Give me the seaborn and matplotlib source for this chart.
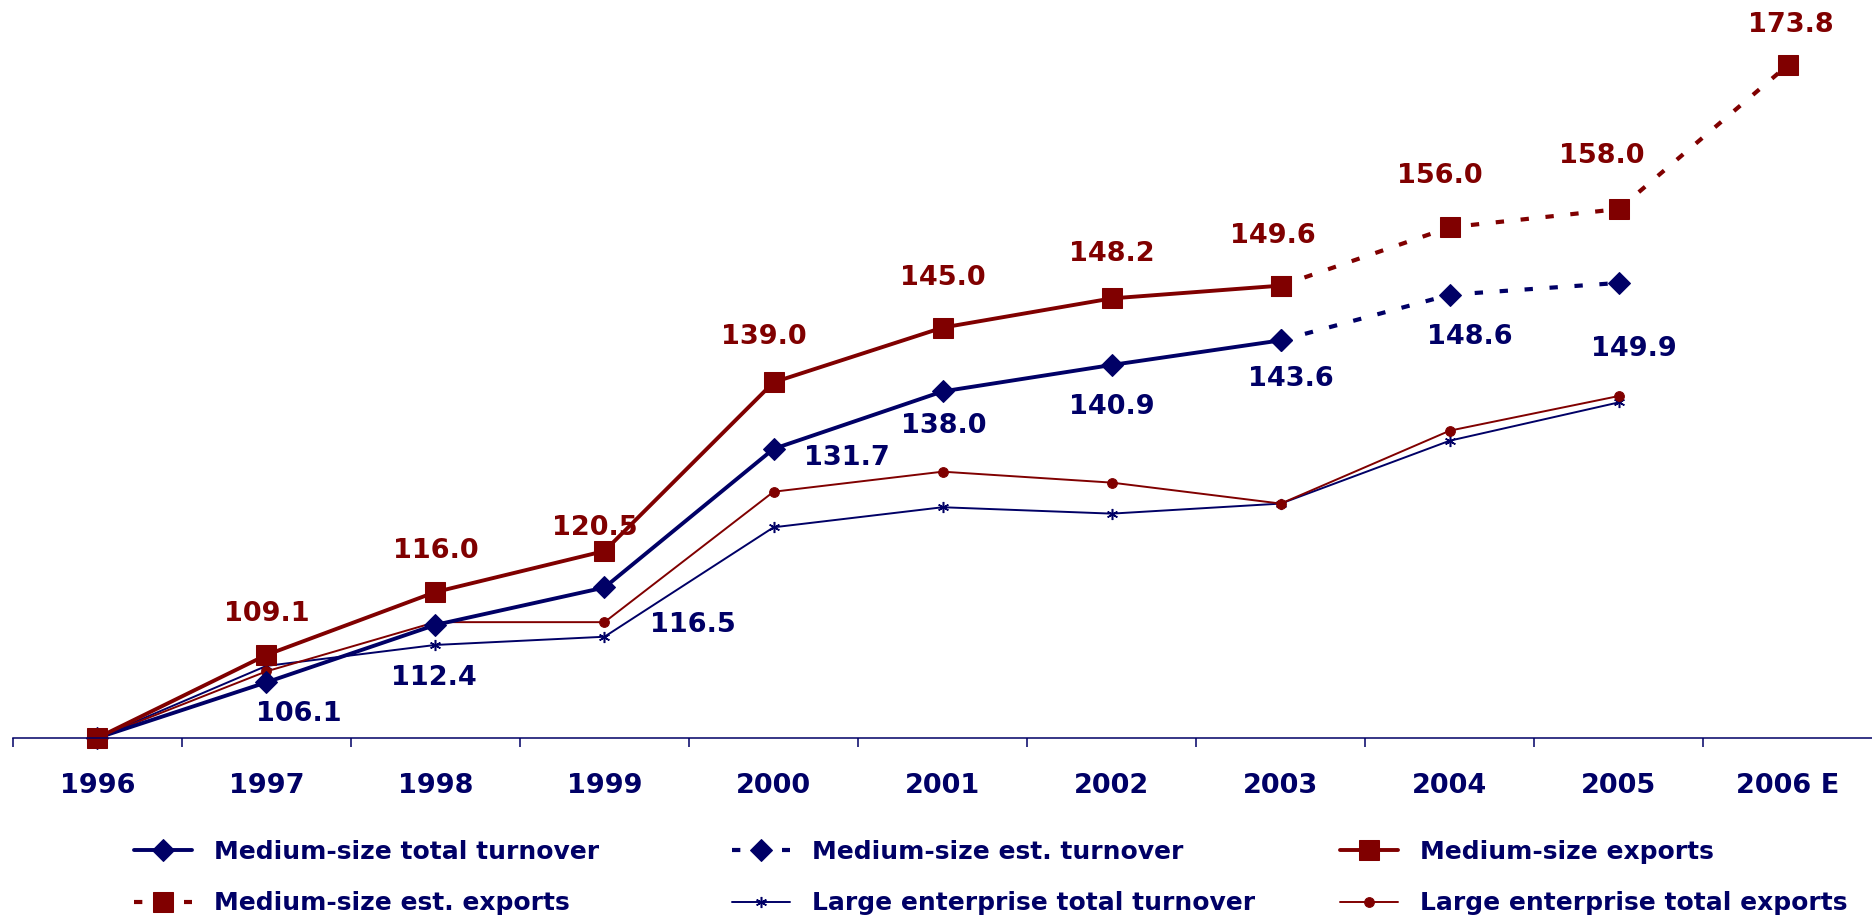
import seaborn as sns
import matplotlib.pyplot as plt
import numpy as np

years = ["1996", "1997", "1998", "1999", "2000", "2001", "2002", "2003", "2004", "2005", "2006 E"]

# medium-size enterprises (1996 = 100)
medium_turnover = [100.0, 106.1, 112.4, 116.5, 131.7, 138.0, 140.9, 143.6]
medium_turnover_est = [143.6, 148.6, 149.9]          # 2003 - 2005
medium_exports = [100.0, 109.1, 116.0, 120.5, 139.0, 145.0, 148.2, 149.6]
medium_exports_est = [149.6, 156.0, 158.0, 173.8]    # 2003 - 2006 E

# large enterprises
large_turnover = [100.0, 107.9, 110.2, 111.1, 123.1, 125.3, 124.6, 125.7, 132.6, 136.8]
large_exports = [100.0, 107.3, 112.7, 112.7, 127.0, 129.2, 128.0, 125.7, 133.7, 137.5]

legend_labels = ["Medium-size total turnover", "Medium-size est. turnover", "Medium-size exports",
                 "Medium-size est. exports", "Large enterprise total turnover", "Large enterprise total exports"]

NAVY = "#000066"
RED = "#800000"

# label offsets in pixels (dx, dy), from 1997 on
turnover_offsets = [(32, -32), (-2, -53), (88, -38), (73, -9), (1, -35), (0, -42), (10, -39), (20, -42), (15, -66)]
exports_offsets = [(0, 41), (0, 41), (-10, 23), (-10, 45), (0, 50), (0, 44), (-8, 50), (-10, 51), (-17, 53), (3, 40)]


def draw_chart():
    sns.set_style("white")
    plt.rcParams['font.family'] = ['DejaVu Sans']
    fig = plt.figure(figsize=(18.72, 9.22), dpi=100)
    ax = fig.add_axes([0.0068, 0.1996, 0.9935, 0.7913])

    n_med = len(medium_turnover)
    x_all = np.arange(len(years))
    x_med = x_all[:n_med]
    x_turn_est = x_all[n_med - 1:n_med - 1 + len(medium_turnover_est)]
    x_exp_est = x_all[n_med - 1:n_med - 1 + len(medium_exports_est)]
    x_large = x_all[:len(large_turnover)]

    dash = (0, (2, 4))
    h = {}
    sns.lineplot(x=x_large, y=large_turnover, ax=ax, color=NAVY, lw=1.4, marker=(6, 2, 0), ms=8,
                 mec=NAVY, mew=1.1, clip_on=False)
    h['lt'] = ax.get_lines()[-1]
    sns.lineplot(x=x_large, y=large_exports, ax=ax, color=RED, lw=1.4, marker='o', ms=7,
                 mec=RED, mfc=RED, clip_on=False)
    h['le'] = ax.get_lines()[-1]
    sns.lineplot(x=x_turn_est, y=medium_turnover_est, ax=ax, color=NAVY, lw=3.0, linestyle=dash,
                 marker='D', ms=11, mec=NAVY, mfc=NAVY, clip_on=False)
    h['mte'] = ax.get_lines()[-1]
    sns.lineplot(x=x_med, y=medium_turnover, ax=ax, color=NAVY, lw=2.8, marker='D', ms=11,
                 mec=NAVY, mfc=NAVY, clip_on=False)
    h['mt'] = ax.get_lines()[-1]
    sns.lineplot(x=x_exp_est, y=medium_exports_est, ax=ax, color=RED, lw=3.0, linestyle=dash,
                 marker='s', ms=14, mec=RED, mfc=RED, clip_on=False)
    h['mee'] = ax.get_lines()[-1]
    sns.lineplot(x=x_med, y=medium_exports, ax=ax, color=RED, lw=2.8, marker='s', ms=14,
                 mec=RED, mfc=RED, clip_on=False)
    h['me'] = ax.get_lines()[-1]

    # value labels
    turn_vals = medium_turnover[1:] + medium_turnover_est[1:]
    exp_vals = medium_exports[1:] + medium_exports_est[1:]
    for i, v in enumerate(turn_vals):
        ax.annotate(f"{v:.1f}", (i + 1, v), xytext=turnover_offsets[i], textcoords='offset pixels',
                    ha='center', va='center', fontsize=19.5, fontweight='bold', color=NAVY)
    for i, v in enumerate(exp_vals):
        ax.annotate(f"{v:.1f}", (i + 1, v), xytext=exports_offsets[i], textcoords='offset pixels',
                    ha='center', va='center', fontsize=19.5, fontweight='bold', color=RED)

    ax.set_xlim(-0.5, len(years) - 0.5)
    ax.set_ylim(100, 180)
    ax.set_xticks(x_all)
    ax.set_xticklabels(years, fontsize=19.5, fontweight='bold', color=NAVY)
    ax.set_xticks(np.arange(-0.5, len(years), 1.0), minor=True)
    ax.tick_params(axis='x', which='major', bottom=True, length=0, pad=25)
    ax.tick_params(axis='x', which='minor', bottom=True, length=6.5, width=1.1, color=NAVY,
                   direction='out')
    ax.set_yticks([])
    ax.set_xlabel("")
    ax.set_ylabel("")
    for side in ['left', 'right', 'top']:
        ax.spines[side].set_visible(False)
    ax.spines['bottom'].set_color(NAVY)
    ax.spines['bottom'].set_linewidth(1.1)

    # legend: three columns placed by hand
    columns = [([h['mt'], h['mee']], [legend_labels[0], legend_labels[3]], 134),
               ([h['mte'], h['lt']], [legend_labels[1], legend_labels[4]], 732),
               ([h['me'], h['le']], [legend_labels[2], legend_labels[5]], 1340)]
    for handles, labels, x0 in columns:
        leg = fig.legend(handles, labels, loc='upper left', bbox_to_anchor=(x0 / 1872, 0.089),
                         frameon=False, borderpad=0, borderaxespad=0, handlelength=2.3,
                         handletextpad=0.9, labelspacing=1.1, numpoints=1,
                         prop={'size': 18, 'weight': 'bold'})
        for t in leg.get_texts():
            t.set_color(NAVY)

    fig.savefig("out.png", dpi=100)


if __name__ == '__main__':
    draw_chart()
